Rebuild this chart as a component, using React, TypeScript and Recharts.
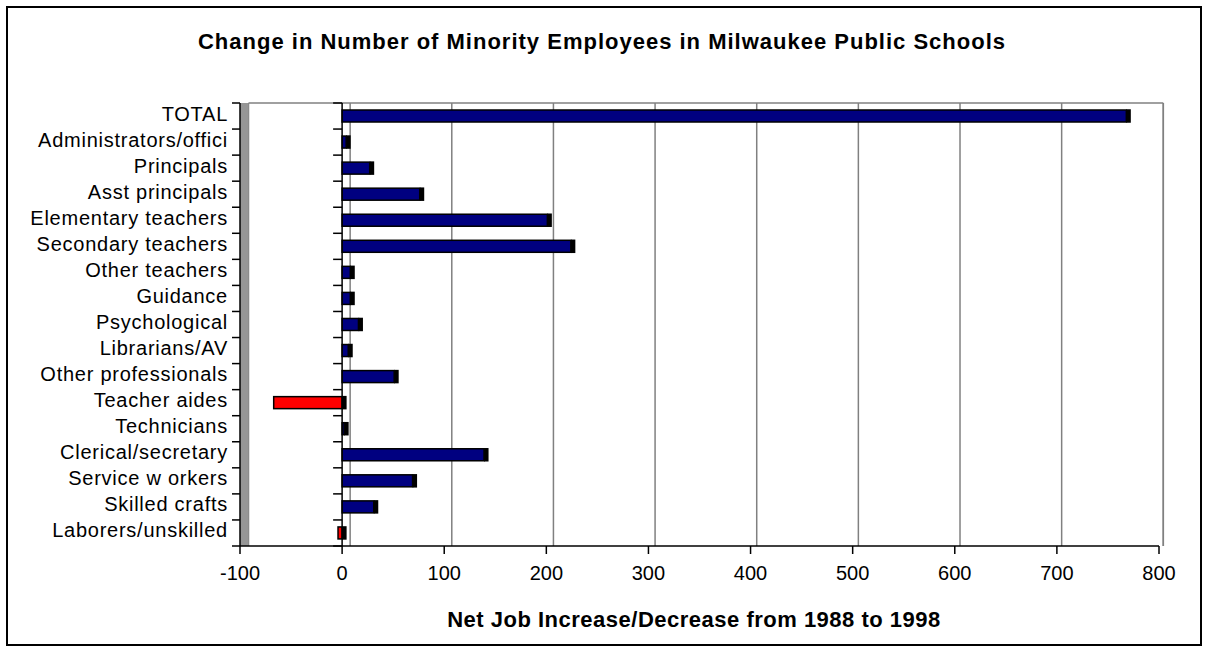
import React from "react";
import {
  Bar,
  BarChart,
  CartesianGrid,
  Cell,
  ReferenceArea,
  ReferenceLine,
  XAxis,
  YAxis,
} from "recharts";

// Data (net change 1988 -> 1998)
const CATEGORIES = [
  "TOTAL",
  "Administrators/offici",
  "Principals",
  "Asst principals",
  "Elementary teachers",
  "Secondary teachers",
  "Other teachers",
  "Guidance",
  "Psychological",
  "Librarians/AV",
  "Other professionals",
  "Teacher aides",
  "Technicians",
  "Clerical/secretary",
  "Service w orkers",
  "Skilled crafts",
  "Laborers/unskilled",
];
const NET_CHANGE = [768, 4, 27, 76, 201, 224, 8, 8, 16, 6, 51, -67, 2, 139, 69, 31, -4];
const X_TICKS = [-100, 0, 100, 200, 300, 400, 500, 600, 700, 800];

const TITLE = "Change in Number of Minority Employees in Milwaukee Public Schools";
const X_LABEL = "Net Job Increase/Decrease from 1988 to 1998";

const data = CATEGORIES.map((name, i) => ({ name, value: NET_CHANGE[i] }));

const FONT = '"Liberation Sans", Arial, Helvetica, sans-serif';
const NAVY = "#000080";
const RED = "#ff0000";
const WALL = "#969696";
const GRID = "#808080";

const CHART_W = 1192;
const CHART_H = 636;
const PLOT_LEFT = 232;
const PLOT_W = 919;
const SIDE = 4.5; // visible end face of the 3-d bars

// back wall sits a few px to the right of the front plane, less so on the right
const depthAt = (x: number) => 8.5 - (4.2 * (x - PLOT_LEFT)) / PLOT_W;

function Bar3D(props: any) {
  const { x, y, width, height, fill } = props;
  const left = Math.min(x, x + width);
  const right = Math.max(x, x + width);
  return (
    <g>
      <rect x={left} y={y} width={right - left} height={height} fill={fill} stroke="#000" strokeWidth={1.5} />
      <rect x={right} y={y - 0.75} width={SIDE} height={height + 1.5} fill="#000" />
    </g>
  );
}

function Walls(props: any) {
  const { x, y, width, height } = props;
  const n = CATEGORIES.length;
  const dl = depthAt(x);
  const dr = depthAt(x + width);
  return (
    <g>
      <rect x={x} y={y} width={dl} height={height} fill={WALL} />
      <line x1={x + dl} y1={y} x2={x + width + dr} y2={y} stroke={GRID} strokeWidth={1.5} />
      <line x1={x + width + dr} y1={y} x2={x + width + dr} y2={y + height} stroke={GRID} strokeWidth={1.5} />
      {Array.from({ length: n + 1 }, (_, i) => (
        <line key={i} x1={x - 8} x2={x} y1={y + (i * height) / n} y2={y + (i * height) / n} stroke="#000" strokeWidth={1.5} />
      ))}
    </g>
  );
}

function ZeroAxis(props: any) {
  const { x1, y1, x2, y2 } = props;
  const n = CATEGORIES.length;
  return (
    <g>
      <line x1={x1} y1={y1} x2={x2} y2={y2} stroke="#000" strokeWidth={1.5} />
      {Array.from({ length: n + 1 }, (_, i) => {
        const yy = y1 + (i * (y2 - y1)) / n;
        return <line key={i} x1={x1 - 9} x2={x1} y1={yy} y2={yy} stroke="#000" strokeWidth={1.5} />;
      })}
    </g>
  );
}

function CategoryTick({ x, y, payload }: any) {
  return (
    <text x={x} y={y} dy={4.5} textAnchor="end" fontSize={20} fontFamily={FONT} letterSpacing={0.75} fill="#000">
      {payload.value}
    </text>
  );
}

function gridLine(p: any) {
  const d = depthAt(p.x1);
  return <line key={`g-${p.index}`} x1={p.x1 + d} x2={p.x2 + d} y1={p.y1} y2={p.y2} stroke={GRID} strokeWidth={1.5} />;
}

export default function App() {
  return (
    <div
      style={{
        position: "absolute",
        left: 6,
        top: 6,
        width: CHART_W,
        height: CHART_H,
        border: "2px solid #000",
        background: "#fff",
        fontFamily: FONT,
      }}
    >
      <BarChart
        width={CHART_W}
        height={CHART_H}
        data={data}
        layout="vertical"
        margin={{ top: 95, right: CHART_W - PLOT_LEFT - PLOT_W, bottom: 58, left: 0 }}
        barSize={12}
      >
        <ReferenceArea x1={-100} x2={800} shape={<Walls />} />
        <CartesianGrid horizontal={false} vertical={gridLine} />
        <XAxis
          type="number"
          domain={[-100, 800]}
          ticks={X_TICKS}
          interval={0}
          height={40}
          tickSize={8}
          tickMargin={12}
          axisLine={{ stroke: "#000", strokeWidth: 1.5 }}
          tickLine={{ stroke: "#000", strokeWidth: 1.5 }}
          tick={{ fontSize: 20, fill: "#000", fontFamily: FONT }}
        />
        <YAxis
          type="category"
          dataKey="name"
          width={PLOT_LEFT}
          interval={0}
          tickSize={8}
          tickMargin={4}
          tickLine={false}
          axisLine={{ stroke: "#000", strokeWidth: 1.5 }}
          tick={<CategoryTick />}
        />
        <Bar dataKey="value" isAnimationActive={false} shape={<Bar3D />}>
          {data.map((d, i) => (
            <Cell key={i} fill={d.value < 0 ? RED : NAVY} />
          ))}
        </Bar>
        <ReferenceLine x={0} shape={<ZeroAxis />} />
      </BarChart>
      <svg
        width={CHART_W}
        height={CHART_H}
        style={{ position: "absolute", left: 0, top: 0, pointerEvents: "none" }}
      >
        <text x={594} y={41.3} textAnchor="middle" fontSize={22} fontWeight="bold" fontFamily={FONT} letterSpacing={1}>
          {TITLE}
        </text>
        <text x={686} y={619} textAnchor="middle" fontSize={22} fontWeight="bold" fontFamily={FONT} letterSpacing={0.5}>
          {X_LABEL}
        </text>
      </svg>
    </div>
  );
}
